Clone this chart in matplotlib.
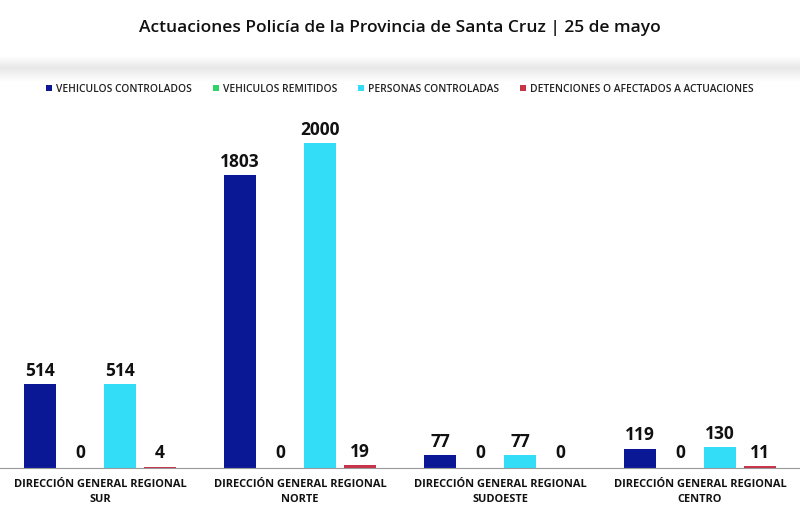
import matplotlib.pyplot as plt
import numpy as np

plt.rcParams['font.family'] = ['Open Sans', 'DejaVu Sans']

# data
regiones = ['DIRECCIÓN GENERAL REGIONAL\nSUR', 'DIRECCIÓN GENERAL REGIONAL\nNORTE',
            'DIRECCIÓN GENERAL REGIONAL\nSUDOESTE', 'DIRECCIÓN GENERAL REGIONAL\nCENTRO']
series = ['VEHICULOS CONTROLADOS', 'VEHICULOS REMITIDOS',
          'PERSONAS CONTROLADAS', 'DETENCIONES O AFECTADOS A ACTUACIONES']
vehiculos_controlados = [514, 1803, 77, 119]
vehiculos_remitidos = [0, 0, 0, 0]
personas_controladas = [514, 2000, 77, 130]
detenciones = [4, 19, 0, 11]
colores = ['#0b1896', '#2fd36b', '#33dcf7', '#c8334a']

fig = plt.figure(figsize=(8, 5.22), dpi=100, facecolor='white')

# shaded band under title (soft shadow)
band = fig.add_axes([0, 1 - 82 / 522, 1, 26 / 522])
t = np.linspace(0, 1, 60)
shade = np.where(t < 0.45, t / 0.45, 1 - (t - 0.45) / 0.55)
grad = 1 - 0.09 * shade
band.imshow(np.dstack([grad, grad, grad]).reshape(-1, 1, 3), aspect='auto', extent=[0, 1, 0, 1])
band.axis('off')

fig.text(0.5, 1 - 28 / 522, 'Actuaciones Policía de la Provincia de Santa Cruz | 25 de mayo',
         ha='center', va='center', fontsize=12.5, fontweight=600, color='#111111')

ax = fig.add_axes([0, 1 - 468 / 522, 1, 358 / 522])
x = np.arange(len(regiones))
valores = [vehiculos_controlados, vehiculos_remitidos, personas_controladas, detenciones]
offsets = [-0.3, -0.1, 0.1, 0.3]
for vals, off, col, nom in zip(valores, offsets, colores, series):
    bars = ax.bar(x + off, vals, width=0.16, color=col, label=nom)
    for b, v in zip(bars, vals):
        ax.text(b.get_x() + b.get_width() / 2, max(v, 12) + 26, str(v), ha='center', va='bottom',
                fontsize=12.5, fontweight='bold', color='#111111')

ax.set_xlim(-0.5, 3.5)
ax.set_ylim(0, 2000 * 358 / 325)
ax.set_xticks(x)
ax.set_xticklabels(regiones, fontsize=7.9, fontweight='bold', color='#111111', linespacing=1.45)
ax.tick_params(axis='x', length=0, pad=8)
ax.set_yticks([])
for s in ['top', 'right', 'left']:
    ax.spines[s].set_visible(False)
ax.spines['bottom'].set_color('#999999')

leg = fig.legend(loc='center', bbox_to_anchor=(0.5, 1 - 89 / 522), ncol=4, frameon=False,
                 prop={'size': 7.4, 'weight': 600}, handlelength=0.6, handleheight=0.6,
                 handletextpad=0.4, columnspacing=2.0)
for txt in leg.get_texts():
    txt.set_color('#222222')

fig.savefig('out.png', dpi=100, facecolor='white')
